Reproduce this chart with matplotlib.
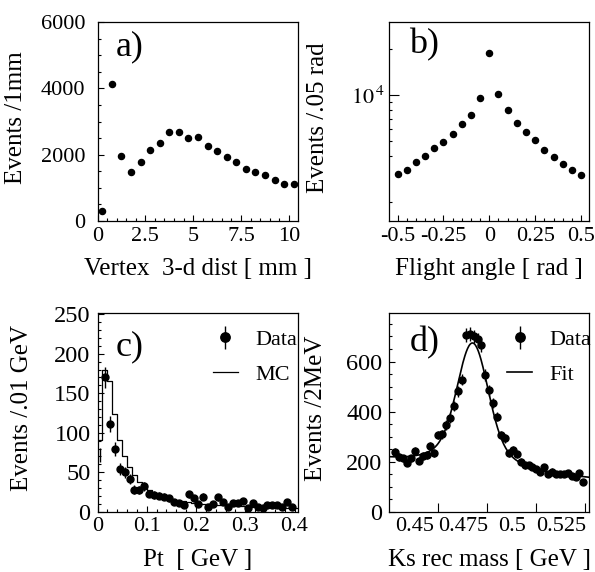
import numpy as np
import matplotlib
matplotlib.use("Agg")
import matplotlib.pyplot as plt
from matplotlib.ticker import FixedLocator, MultipleLocator, NullFormatter
from matplotlib.transforms import ScaledTranslation

plt.rcParams['font.family'] = ['Liberation Serif', 'DejaVu Serif']
plt.rcParams['mathtext.fontset'] = 'stix'
plt.rcParams['axes.unicode_minus'] = False


""" Data """

# a) vertex 3-d distance
dist_x = [0.25, 0.75, 1.25, 1.75, 2.25, 2.75, 3.25, 3.75, 4.25, 4.75, 5.25,
          5.75, 6.25, 6.75, 7.25, 7.75, 8.25, 8.75, 9.25, 9.75, 10.25]
dist_counts = [310, 4120, 1965, 1475, 1775, 2135, 2355, 2680, 2670, 2510, 2525,
               2270, 2105, 1925, 1775, 1555, 1465, 1385, 1235, 1125, 1115]

# b) flight angle
angle_x = [-0.5, -0.45, -0.4, -0.35, -0.3, -0.25, -0.2, -0.15, -0.1, -0.05, 0.0,
           0.05, 0.1, 0.15, 0.2, 0.25, 0.3, 0.35, 0.4, 0.45, 0.5]
angle_counts = [3040, 3240, 3620, 3985, 4475, 4900, 5525, 6425, 7390, 9560, 18750,
                10200, 8015, 6520, 5695, 5100, 4385, 3945, 3515, 3245, 2990]

# c) Pt, data and MC
pt_x = [0.005, 0.015, 0.025, 0.035, 0.045, 0.055, 0.065, 0.075, 0.085, 0.095,
        0.105, 0.115, 0.125, 0.135, 0.145, 0.155, 0.165, 0.175, 0.185, 0.195,
        0.205, 0.215, 0.225, 0.235, 0.245, 0.255, 0.265, 0.275, 0.285, 0.295,
        0.305, 0.315, 0.325, 0.335, 0.345, 0.355, 0.365, 0.375, 0.385, 0.395]
pt_counts = [72, 170, 111, 79, 54, 50, 41, 28, 27, 32,
             23, 21, 20, 19, 17, 12, 11, 9, 22, 17,
             10, 19, 6, 10, 18, 12, 6, 11, 11, 13,
             5, 11, 6, 5, 9, 9, 9, 6, 12, 6]
mc_edges = np.round(np.arange(0.0, 0.415, 0.01), 3)
mc_counts = [91, 180, 166, 124, 91, 70, 57, 46, 38, 32,
             27, 24, 21, 19, 17, 15, 14, 13, 12, 11,
             10.5, 10, 9.5, 9, 8.5, 8, 8, 7.5, 7, 7,
             6.5, 6.5, 6, 6, 6, 5.5, 5.5, 5, 5, 5, 5]

# d) Ks reconstructed mass, 2 MeV bins
mass_x = np.round(np.arange(0.428, 0.5245, 0.002), 3)
mass_counts = [239, 219, 213, 195, 213, 242, 203, 222, 226, 262,
               235, 306, 310, 346, 375, 423, 482, 528, 706, 710,
               700, 688, 665, 545, 485, 435, 380, 306, 293, 233,
               246, 229, 199, 186, 185, 179, 170, 160, 177, 149,
               160, 150, 149, 149, 153, 144, 137, 156, 120]

# fit: two gaussians on a linear background
fit_mean = 0.4675
fit_amp1, fit_sigma1 = 400.0, 0.0075
fit_amp2, fit_sigma2 = 90.0, 0.016
bg_at_mean, bg_slope = 184.0, -781.0


""" Plot """

fig = plt.figure(figsize=(5.95, 5.72), dpi=100)

W, H = 595.0, 572.0
ax_w, ax_h = 200 / W, 199 / H
ax_a = fig.add_axes([97.5 / W, 1 - 221 / H, ax_w, ax_h])
ax_b = fig.add_axes([389.3 / W, 1 - 221 / H, ax_w, ax_h])
ax_c = fig.add_axes([97.5 / W, 1 - 511.7 / H, ax_w, ax_h])
ax_d = fig.add_axes([389.3 / W, 1 - 511.7 / H, ax_w, ax_h])

for ax in (ax_a, ax_b, ax_c, ax_d):
    for sp in ax.spines.values():
        sp.set_linewidth(0.9)
    ax.tick_params(which='both', direction='in', top=False, right=False,
                   labelsize=16, width=0.8)
    ax.tick_params(which='major', length=4.5)
    ax.tick_params(which='minor', length=2.2)
    ax.tick_params(axis='x', pad=4)

legend_style = dict(loc='upper left', frameon=False, fontsize=16, handlelength=1.1,
                    handletextpad=0.8, labelspacing=0.62, borderpad=0,
                    borderaxespad=0, markerscale=1.35)


# a)
ax_a.plot(dist_x, dist_counts, 'o', color='k', ms=4.4)
ax_a.set_xlim(0, 10.45)
ax_a.set_ylim(0, 6000)
ax_a.set_xticks([0, 2.5, 5, 7.5, 10], ['0', '2.5', '5', '7.5', '10'])
ax_a.xaxis.set_minor_locator(MultipleLocator(0.5))
ax_a.set_yticks([0, 2000, 4000, 6000])
ax_a.yaxis.set_minor_locator(MultipleLocator(500))
ax_a.tick_params(axis='y', pad=9)
ax_a.set_xlabel('Vertex  3-d dist [ mm ]', fontsize=18)
ax_a.set_ylabel('Events /1mm', fontsize=18)
ax_a.xaxis.set_label_coords(0.5, -0.185)
ax_a.yaxis.set_label_coords(-0.35, 0.52)
ax_a.text(0.09, 0.875, 'a)', fontsize=26, transform=ax_a.transAxes, va='center')

# b)
ax_b.plot(angle_x, angle_counts, 'o', color='k', ms=4.4)
ax_b.set_yscale('log')
ax_b.set_xlim(-0.545, 0.545)
ax_b.set_ylim(1500, 30000)
ax_b.set_xticks([-0.5, -0.25, 0, 0.25, 0.5], ['-0.5', '-0.25', '0', '0.25', '0.5'])
ax_b.xaxis.set_minor_locator(MultipleLocator(0.05))
ax_b.yaxis.set_major_locator(FixedLocator([1e4]))
ax_b.set_yticklabels([r'$10^{\,4}$'])
ax_b.yaxis.set_minor_locator(FixedLocator([2000, 4000, 5000, 6000, 7000, 8000, 9000, 20000]))
ax_b.yaxis.set_minor_formatter(NullFormatter())
ax_b.tick_params(axis='y', which='major', length=7, pad=3)
ax_b.set_xlabel('Flight angle [ rad ]', fontsize=18)
ax_b.set_ylabel('Events /.05 rad', fontsize=18)
ax_b.xaxis.set_label_coords(0.5, -0.185)
ax_b.yaxis.set_label_coords(-0.30, 0.52)
ax_b.text(0.10, 0.885, 'b)', fontsize=26, transform=ax_b.transAxes, va='center')

# c)
ax_c.step(mc_edges, list(mc_counts) + [mc_counts[-1]], where='post', color='k',
          lw=0.9, label='MC')
ax_c.errorbar(pt_x[:1], pt_counts[:1], yerr=np.sqrt(pt_counts[:1]), fmt='none',
              ecolor='k', elinewidth=1)
data_c = ax_c.errorbar(pt_x[1:], pt_counts[1:], yerr=np.sqrt(pt_counts[1:]), fmt='o',
                       color='k', ms=5, elinewidth=1, capsize=0, label='Data')
ax_c.set_xlim(0, 0.406)
ax_c.set_ylim(0, 252)
ax_c.set_xticks([0, 0.1, 0.2, 0.3, 0.4], ['0', '0.1', '0.2', '0.3', '0.4'])
ax_c.xaxis.set_minor_locator(MultipleLocator(0.02))
ax_c.set_yticks([0, 50, 100, 150, 200, 250])
ax_c.yaxis.set_minor_locator(MultipleLocator(10))
ax_c.tick_params(axis='y', pad=5, labelsize=17.5)
ax_c.set_xlabel('Pt  [ GeV ]', fontsize=18)
ax_c.set_ylabel('Events /.01 GeV', fontsize=18)
ax_c.xaxis.set_label_coords(0.5, -0.185)
ax_c.yaxis.set_label_coords(-0.32, 0.52)
ax_c.text(0.09, 0.83, 'c)', fontsize=26, transform=ax_c.transAxes, va='center')
h, l = ax_c.get_legend_handles_labels()
ax_c.legend([data_c, h[0]], ['Data', 'MC'], bbox_to_anchor=(0.578, 0.915), **legend_style)

# d)
fit_x = np.linspace(0.425, 0.527, 300)
fit_y = (bg_at_mean + bg_slope * (fit_x - fit_mean)
         + fit_amp1 * np.exp(-0.5 * ((fit_x - fit_mean) / fit_sigma1) ** 2)
         + fit_amp2 * np.exp(-0.5 * ((fit_x - fit_mean) / fit_sigma2) ** 2))
fit_line, = ax_d.plot(fit_x, fit_y, color='k', lw=1.2)
data_d = ax_d.errorbar(mass_x, mass_counts, yerr=np.sqrt(mass_counts), fmt='o',
                       color='k', ms=5, elinewidth=1, capsize=0)
ax_d.set_xlim(0.425, 0.527)
ax_d.set_ylim(0, 795)
ax_d.set_xticks([0.45, 0.475, 0.5, 0.525], ['0.45', '0.475', '0.5', '0.525'])
ax_d.set_yticks([0, 200, 400, 600])
ax_d.yaxis.set_minor_locator(MultipleLocator(50))
ax_d.tick_params(axis='x', which='major', length=6.5)
ax_d.tick_params(axis='y', pad=5, labelsize=17.5)
# tick labels sit left of their ticks in the original
shift = ScaledTranslation(-24 / 100, 0, fig.dpi_scale_trans)
for lab in ax_d.get_xticklabels():
    lab.set_transform(lab.get_transform() + shift)
ax_d.set_xlabel('Ks rec mass [ GeV ]', fontsize=18)
ax_d.set_ylabel('Events /2MeV', fontsize=18)
ax_d.xaxis.set_label_coords(0.5, -0.185)
ax_d.yaxis.set_label_coords(-0.31, 0.52)
ax_d.text(0.10, 0.85, 'd)', fontsize=26, transform=ax_d.transAxes, va='center')
ax_d.legend([data_d, fit_line], ['Data', 'Fit'], bbox_to_anchor=(0.59, 0.915), **legend_style)

fig.savefig('out.png', dpi=100)
